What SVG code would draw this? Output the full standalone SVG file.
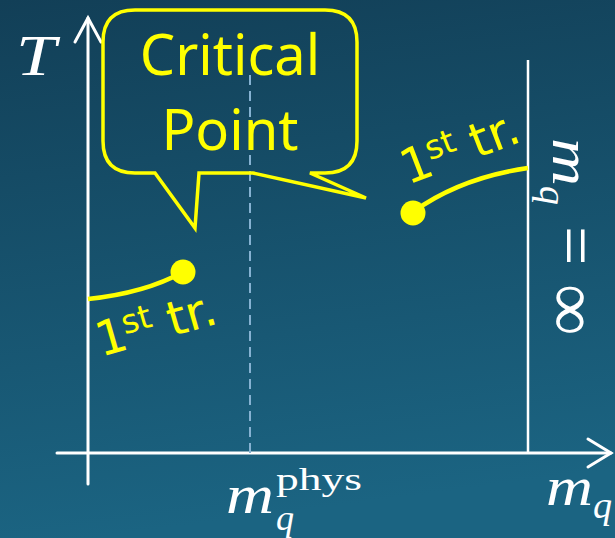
<svg xmlns="http://www.w3.org/2000/svg" width="615" height="538" viewBox="0 0 615 538">
<defs>
<linearGradient id="bg" x1="0" y1="0" x2="0.15" y2="1">
<stop offset="0" stop-color="#123f57"/>
<stop offset="1" stop-color="#1b6482"/>
</linearGradient>
<style>
.ax{stroke:#ffffff;stroke-width:3;fill:none;stroke-linecap:round}
.yl{stroke:#ffff00;stroke-width:4.5;fill:none}
.dot{fill:#ffff00}
.lbl{font-family:"DejaVu Sans",sans-serif;fill:#ffff00}
.big{font-family:"Noto Sans",sans-serif;font-size:56px;fill:#ffff00;text-anchor:middle}
.mi{font-family:"Liberation Serif",serif;font-style:italic;fill:#ffffff}
.mr{font-family:"Liberation Serif",serif;fill:#ffffff}
</style>
</defs>
<rect width="615" height="538" fill="url(#bg)"/>
<g id="connectors">
<line class="ax" x1="88" y1="484" x2="88" y2="18"/>
<polyline class="ax" points="75,42 88,18 101,42"/>
<line class="ax" x1="57" y1="453" x2="611" y2="453"/>
<polyline class="ax" points="588,439 611,453 588,467"/>
<line x1="528" y1="60" x2="528" y2="453" stroke="#ffffff" stroke-width="2.5"/>
<line x1="250" y1="75" x2="250" y2="453" stroke="#86b2d2" stroke-width="2" stroke-dasharray="10,6"/>
</g>
<g id="axis-labels">
<text class="mi" x="16" y="75" font-size="56" textLength="40" lengthAdjust="spacingAndGlyphs">T</text>
<text class="mi" x="226" y="513" font-size="54" textLength="48" lengthAdjust="spacingAndGlyphs">m</text>
<text class="mi" x="276" y="530" font-size="36">q</text>
<text class="mr" x="276" y="490" font-size="32" textLength="86" lengthAdjust="spacingAndGlyphs">phys</text>
<text class="mi" x="546" y="505" font-size="54" textLength="47" lengthAdjust="spacingAndGlyphs">m</text>
<text class="mi" x="593" y="518" font-size="38">q</text>
<g transform="translate(553,138) rotate(90)">
<text class="mi" x="0" y="0" font-size="54" textLength="48" lengthAdjust="spacingAndGlyphs">m</text>
<text class="mi" x="48" y="13" font-size="38">q</text>
<text class="mr" x="88" y="1" font-size="70">=</text>
<text class="mr" x="146" y="4" font-size="72">∞</text>
</g>
</g>
<g id="callout">
<path d="M135,10 H325 Q357,10 357,42 V141 Q357,173 325,173 H310 L366,198 L253,173 H199 L195,228 L155,173 H135 Q103,173 103,141 V42 Q103,10 135,10 Z" fill="none" stroke="#ffff00" stroke-width="3.5" stroke-linejoin="miter"/>
<text class="big" x="230" y="75">Critical</text>
<text class="big" x="230" y="150">Point</text>
</g>
<g id="left-transition">
<path class="yl" d="M88,299 Q145,293 183,272"/>
<circle class="dot" cx="183" cy="272" r="12.5"/>
<text class="lbl" transform="translate(101,357) rotate(-16)" font-size="48"><tspan x="0" y="0">1</tspan><tspan x="29" y="-15" font-size="33">st</tspan><tspan x="74" y="0">tr.</tspan></text>
</g>
<g id="right-transition">
<path class="yl" d="M413,212 Q460,178 528,168"/>
<circle class="dot" cx="413" cy="213" r="12.5"/>
<text class="lbl" transform="translate(408,185) rotate(-21)" font-size="48"><tspan x="0" y="0">1</tspan><tspan x="29" y="-15" font-size="33">st</tspan><tspan x="74" y="0">tr.</tspan></text>
</g>
</svg>
